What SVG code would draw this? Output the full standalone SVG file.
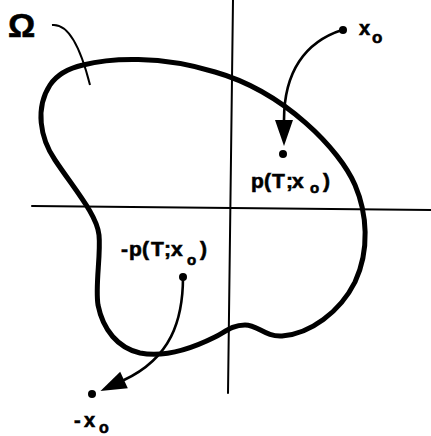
<svg xmlns="http://www.w3.org/2000/svg" width="431" height="436" viewBox="0 0 431 436">
<style>
.lbl{font-family:"Liberation Sans",Arial,sans-serif;font-weight:bold;fill:#000;stroke:#000;stroke-width:0.6}
.axis{stroke:#000;stroke-width:2;fill:none;stroke-linecap:round}
.conn{stroke:#000;stroke-width:2.6;fill:none;stroke-linecap:round}
.dot{fill:#000}
</style>
<defs>
<marker id="ah" markerUnits="userSpaceOnUse" orient="auto" refX="0" refY="0" markerWidth="30" markerHeight="20" overflow="visible">
<path d="M0,-9 L26,0 L0,9 Z" fill="#000"/>
</marker>
</defs>
<rect width="431" height="436" fill="#fff"/>
<g id="axes">
<path class="axis" d="M32,206 L431,210"/>
<path class="axis" d="M233,0 L228,393"/>
</g>
<g id="region">
<path d="M83,65 C110,58 160,55 215,72 C285,92 340,150 355,185 C367,213 370,250 355,282 C340,312 310,334 282,336 C265,337 258,325 245,325 C232,325 225,332 215,337 C195,347 165,358 140,353 C118,348 103,330 98,305 C95,285 101,255 99,235 C97,215 75,190 55,160 C40,138 35,108 50,85 C58,73 70,68 83,65 Z" fill="none" stroke="#000" stroke-width="5" stroke-linejoin="round"/>
</g>
<g id="omega">
<text class="lbl" x="8" y="37" font-size="34">Ω</text>
<path d="M52,25 C68,23 80,45 90,85" fill="none" stroke="#000" stroke-width="2"/>
</g>
<g id="x0">
<circle class="dot" cx="343" cy="30" r="4"/>
<text class="lbl" font-size="20"><tspan x="359" y="35">x</tspan><tspan x="372" y="43" font-size="17">o</tspan></text>
</g>
<g id="p">
<circle class="dot" cx="283" cy="154" r="4"/>
<text class="lbl" font-size="21"><tspan x="251 264 272 286 292" y="188">p(T;x</tspan><tspan x="310" y="193" font-size="15">o</tspan><tspan x="323" y="188">)</tspan></text>
</g>
<g id="neg-p">
<circle class="dot" cx="183" cy="277" r="4"/>
<text class="lbl" font-size="21"><tspan x="121 129 142 151 164 171" y="256">-p(T;x</tspan><tspan x="187" y="265" font-size="15">o</tspan><tspan x="200" y="256">)</tspan></text>
</g>
<g id="neg-x0">
<circle class="dot" cx="92" cy="394" r="4"/>
<text class="lbl" font-size="20"><tspan x="74 84" y="427">-x</tspan><tspan x="99" y="433" font-size="16">o</tspan></text>
</g>
<g id="connectors">
<path class="conn" d="M342,30 C305,42 284,72 284,120" marker-end="url(#ah)"/>
<path class="conn" d="M183,277 C183,320 171,358 124,380" marker-end="url(#ah)"/>
</g>
</svg>
